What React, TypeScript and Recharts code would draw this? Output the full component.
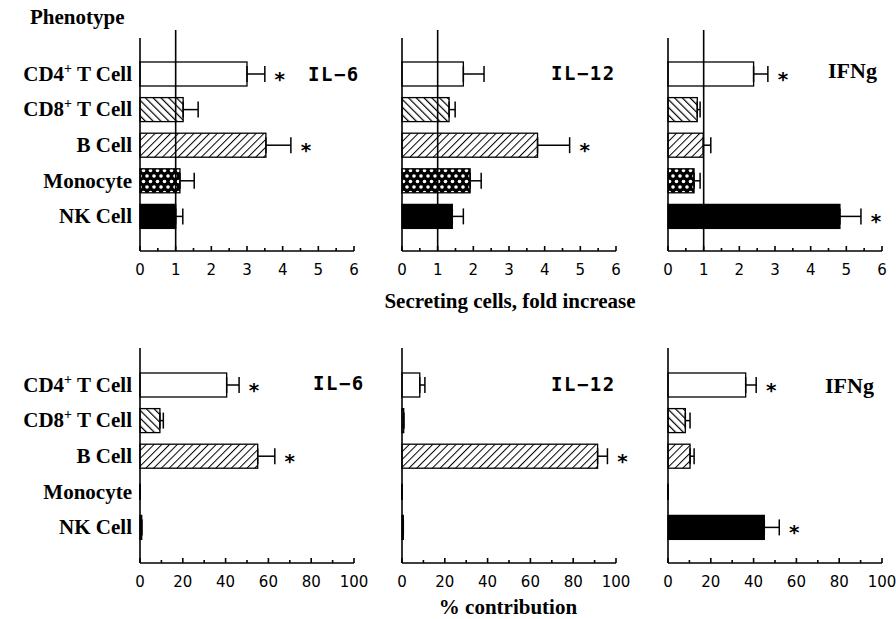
import {
  Bar,
  BarChart,
  ErrorBar,
  ReferenceLine,
  XAxis,
  YAxis,
} from "recharts";

// phenotypes, top to bottom
const cells = ["CD4+ T Cell", "CD8+ T Cell", "B Cell", "Monocyte", "NK Cell"];
const cellFills = ["#fff", "url(#hatchBack)", "url(#hatchFwd)", "url(#crossDots)", "#000"];

// secreting cells, fold increase
const foldIL6 = [3.0, 1.21, 3.53, 1.12, 1.0];
const foldIL6Err = [0.5, 0.42, 0.7, 0.4, 0.2];
const foldIL6Sig = [true, false, true, false, false];

const foldIL12 = [1.72, 1.32, 3.8, 1.91, 1.41];
const foldIL12Err = [0.58, 0.17, 0.9, 0.31, 0.31];
const foldIL12Sig = [false, false, true, false, false];

const foldIFNg = [2.4, 0.82, 0.99, 0.73, 4.82];
const foldIFNgErr = [0.4, 0.08, 0.21, 0.17, 0.59];
const foldIFNgSig = [true, false, false, false, true];

// % contribution
const pctIL6 = [40.5, 9.3, 55, 0, 0.8];
const pctIL6Err = [5.8, 1.6, 8, 0, 0];
const pctIL6Sig = [true, false, true, false, false];

const pctIL12 = [8.3, 0.8, 91.4, 0, 0.6];
const pctIL12Err = [2.4, 0, 4.6, 0, 0];
const pctIL12Sig = [false, false, true, false, false];

const pctIFNg = [36.3, 8.1, 10.3, 0, 45];
const pctIFNgErr = [4.9, 2.2, 1.9, 0, 7];
const pctIFNgSig = [true, false, false, false, true];

const foldTicks = [0, 0.5, 1, 1.5, 2, 2.5, 3, 3.5, 4, 4.5, 5, 5.5, 6];
const pctTicks = [0, 10, 20, 30, 40, 50, 60, 70, 80, 90, 100];

const SERIF = "'Liberation Serif', 'Times New Roman', serif";
const SANS = "'DejaVu Sans', sans-serif";
const MONO = "'DejaVu Sans Mono', monospace";

function rows(values: number[], errs: number[], sig: boolean[]) {
  return cells.map((cell, i) => ({
    cell,
    value: values[i],
    err: [0, errs[i]],
    errHi: errs[i],
    sig: sig[i],
  }));
}

function CellTick({ x, y, payload }: any) {
  const [a, b] = String(payload.value).split("+");
  return (
    <text x={x - 8} y={y + 7} textAnchor="end" fontFamily={SERIF} fontWeight="bold" fontSize={21} fill="#000">
      {b !== undefined ? (
        <>
          {a}
          <tspan dy={-8} fontSize={14}>+</tspan>
          <tspan dy={8}>{b}</tspan>
        </>
      ) : (
        a
      )}
    </text>
  );
}

function makeXTick(majorStep: number) {
  return ({ x, y, payload }: any) => {
    const v = payload.value;
    const major = Math.abs(v / majorStep - Math.round(v / majorStep)) < 1e-6;
    return (
      <g>
        <line x1={x} x2={x} y1={y} y2={y - (major ? 5 : 3)} stroke="#000" strokeWidth={1.6} />
        {major && (
          <text x={x} y={y + 24} textAnchor="middle" fontFamily={SANS} fontSize={15} fill="#000">
            {v}
          </text>
        )}
      </g>
    );
  };
}

// bar rectangle plus the significance asterisk past the error bar
function BarShape(p: any) {
  const { x, y, width, height, payload, index } = p;
  if (!payload || !(payload.value > 0)) return <g />;
  const end = x + (width * (payload.value + payload.errHi)) / payload.value;
  return (
    <g>
      <rect
        x={x}
        y={y}
        width={width}
        height={height}
        fill={cellFills[index]}
        stroke="#000"
        strokeWidth={1.3}
      />
      {payload.sig && (
        <text
          x={end + 15}
          y={y + height / 2 + 12}
          textAnchor="middle"
          fontFamily={SANS}
          fontWeight="bold"
          fontSize={20}
          fill="#000"
        >
          *
        </text>
      )}
    </g>
  );
}

function Panel({
  data,
  left,
  top,
  width,
  height,
  yWidth,
  showCells,
  max,
  ticks,
  majorStep,
  refLine,
  padTop,
  padBottom,
}: any) {
  return (
    <div style={{ position: "absolute", left, top }}>
      <BarChart
        width={width}
        height={height}
        data={data}
        layout="vertical"
        margin={{ top: 38, right: width - yWidth - 214, bottom: 0, left: 0 }}
      >
        <XAxis
          type="number"
          domain={[0, max]}
          ticks={ticks}
          interval={0}
          height={30}
          tickSize={0}
          tickMargin={0}
          tickLine={false}
          axisLine={{ stroke: "#000", strokeWidth: 1.6 }}
          tick={makeXTick(majorStep)}
        />
        <YAxis
          type="category"
          dataKey="cell"
          width={yWidth}
          tickSize={0}
          tickMargin={0}
          tickLine={false}
          axisLine={{ stroke: "#000", strokeWidth: 1.6 }}
          tick={showCells ? CellTick : false}
          padding={{ top: padTop, bottom: padBottom }}
        />
        <Bar dataKey="value" barSize={24} shape={BarShape} isAnimationActive={false}>
          <ErrorBar dataKey="err" direction="x" width={8} stroke="#000" strokeWidth={1.5} />
        </Bar>
        {refLine && (
          <ReferenceLine
            x={1}
            stroke="#000"
            strokeWidth={1.6}
            shape={(p: any) => (
              <line
                x1={p.x1}
                x2={p.x2}
                y1={Math.min(p.y1, p.y2) - 8}
                y2={Math.max(p.y1, p.y2)}
                stroke="#000"
                strokeWidth={1.6}
              />
            )}
          />
        )}
      </BarChart>
    </div>
  );
}

const columns = [
  { left: 0, width: 370, yWidth: 140, showCells: true },
  { left: 372, width: 260, yWidth: 30, showCells: false },
  { left: 638, width: 258, yWidth: 30, showCells: false },
];

export default function App() {
  const topData = [
    rows(foldIL6, foldIL6Err, foldIL6Sig),
    rows(foldIL12, foldIL12Err, foldIL12Sig),
    rows(foldIFNg, foldIFNgErr, foldIFNgSig),
  ];
  const bottomData = [
    rows(pctIL6, pctIL6Err, pctIL6Sig),
    rows(pctIL12, pctIL12Err, pctIL12Sig),
    rows(pctIFNg, pctIFNgErr, pctIFNgSig),
  ];

  return (
    <div style={{ position: "absolute", left: 0, top: 0, width: 896, height: 619, background: "#fff" }}>
      <svg width={0} height={0} style={{ position: "absolute" }}>
        <defs>
          <pattern id="hatchBack" width={5.5} height={5.5} patternUnits="userSpaceOnUse" patternTransform="rotate(-45)">
            <rect width={5.5} height={5.5} fill="#fff" />
            <line x1={0} y1={0} x2={0} y2={5.5} stroke="#000" strokeWidth={2.4} />
          </pattern>
          <pattern id="hatchFwd" width={5.5} height={5.5} patternUnits="userSpaceOnUse" patternTransform="rotate(45)">
            <rect width={5.5} height={5.5} fill="#fff" />
            <line x1={0} y1={0} x2={0} y2={5.5} stroke="#000" strokeWidth={2} />
          </pattern>
          <pattern id="crossDots" width={7} height={11} patternUnits="userSpaceOnUse">
            <rect width={7} height={11} fill="#000" />
            <circle cx={0} cy={0} r={1.8} fill="#fff" />
            <circle cx={7} cy={0} r={1.8} fill="#fff" />
            <circle cx={0} cy={11} r={1.8} fill="#fff" />
            <circle cx={7} cy={11} r={1.8} fill="#fff" />
            <circle cx={3.5} cy={5.5} r={1.8} fill="#fff" />
          </pattern>
        </defs>
      </svg>

      {columns.map((c, i) => (
        <Panel
          key={`top${i}`}
          data={topData[i]}
          left={c.left}
          top={0}
          width={c.width}
          height={281}
          yWidth={c.yWidth}
          showCells={c.showCells}
          max={6}
          ticks={foldTicks}
          majorStep={1}
          refLine
          padTop={18}
          padBottom={17}
        />
      ))}
      {columns.map((c, i) => (
        <Panel
          key={`bot${i}`}
          data={bottomData[i]}
          left={c.left}
          top={310}
          width={c.width}
          height={283}
          yWidth={c.yWidth}
          showCells={c.showCells}
          max={100}
          ticks={pctTicks}
          majorStep={20}
          refLine={false}
          padTop={19}
          padBottom={18}
        />
      ))}

      <svg width={896} height={619} style={{ position: "absolute", left: 0, top: 0, pointerEvents: "none" }}>
        <text x={30} y={24} fontFamily={SERIF} fontWeight="bold" fontSize={21}>Phenotype</text>

        <text x={308} y={81} fontFamily={MONO} fontWeight="bold" fontSize={19} letterSpacing={1.5}>IL−6</text>
        <text x={551} y={80} fontFamily={MONO} fontWeight="bold" fontSize={19} letterSpacing={1.5}>IL−12</text>
        <text x={828} y={78} fontFamily={SERIF} fontWeight="bold" fontSize={22}>IFNg</text>

        <text x={313} y={390} fontFamily={MONO} fontWeight="bold" fontSize={19} letterSpacing={1.5}>IL−6</text>
        <text x={551} y={391} fontFamily={MONO} fontWeight="bold" fontSize={19} letterSpacing={1.5}>IL−12</text>
        <text x={825} y={393} fontFamily={SERIF} fontWeight="bold" fontSize={22}>IFNg</text>

        <text x={510} y={308} textAnchor="middle" fontFamily={SERIF} fontWeight="bold" fontSize={21}>
          Secreting cells, fold increase
        </text>
        <text x={508} y={614} textAnchor="middle" fontFamily={SERIF} fontWeight="bold" fontSize={21}>
          % contribution
        </text>
      </svg>
    </div>
  );
}
